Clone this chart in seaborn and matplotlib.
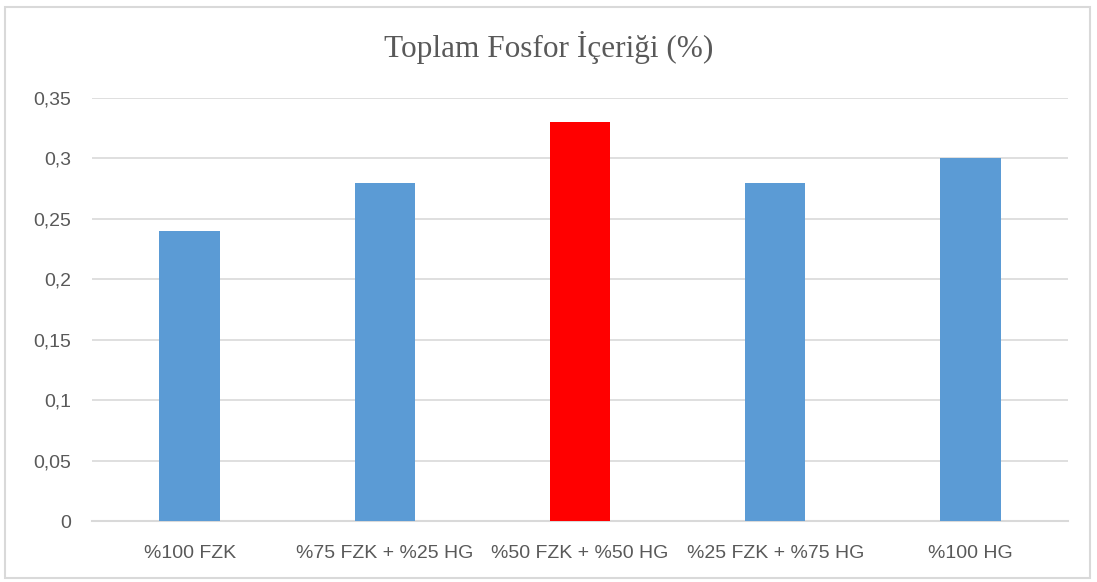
import matplotlib
matplotlib.use("Agg")
import matplotlib.pyplot as plt
import seaborn as sns
import pandas as pd
from matplotlib.patches import Rectangle

categories = ["%100 FZK", "%75 FZK + %25 HG", "%50 FZK + %50 HG", "%25 FZK + %75 HG", "%100 HG"]
values = [0.24, 0.28, 0.33, 0.28, 0.30]
bar_colors = ["#5B9BD5", "#5B9BD5", "#FF0000", "#5B9BD5", "#5B9BD5"]
yticks = [0, 0.05, 0.1, 0.15, 0.2, 0.25, 0.3, 0.35]
ytick_labels = ["0", "0,05", "0,1", "0,15", "0,2", "0,25", "0,3", "0,35"]
title = "Toplam Fosfor İçeriği (%)"

sns.set_style("white")
plt.rcParams['font.family'] = ['Liberation Sans', 'DejaVu Sans']

df = pd.DataFrame({"cat": categories, "val": values})

fig = plt.figure(figsize=(10.97, 5.82), dpi=100)
ax = fig.add_axes([92/1097, 1 - 521/582, (1068 - 92)/1097, (521 - 98)/582])

sns.barplot(data=df, x="cat", y="val", hue="cat", palette=bar_colors, legend=False,
            width=0.31, ax=ax, saturation=1, zorder=3, linewidth=0, edgecolor="none")

ax.set_ylim(0, 0.35)
ax.set_yticks(yticks)
ax.set_yticklabels(ytick_labels)
ax.yaxis.grid(True, color="#D9D9D9", linewidth=1.2, zorder=0)
ax.set_axisbelow(True)
for s in ["top", "right", "left"]:
    ax.spines[s].set_visible(False)
ax.spines["bottom"].set_color("#D9D9D9")
ax.spines["bottom"].set_linewidth(1.5)
ax.tick_params(axis="both", length=0, labelsize=14, colors="#595959")
ax.tick_params(axis="y", pad=15)
ax.tick_params(axis="x", pad=17)
ax.set_xlabel("")
ax.set_ylabel("")
ax.set_xlim(-0.5, 4.5)

fig.text(0.5, 1 - 47/582, title, ha="center", va="center", fontsize=22.5,
         color="#595959", family=["Liberation Serif", "DejaVu Serif"])

fig.patches.append(Rectangle((5/1097, 4/582), (1090 - 5)/1097, (575 - 4)/582,
                             transform=fig.transFigure, fill=False,
                             edgecolor="#D9D9D9", linewidth=1.5))

fig.savefig("out.png", dpi=100)
